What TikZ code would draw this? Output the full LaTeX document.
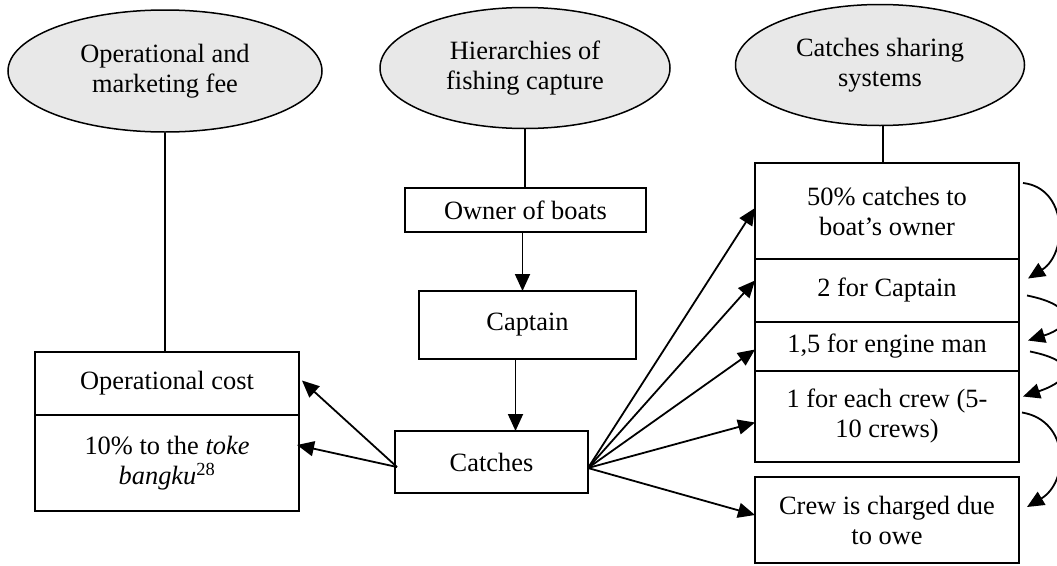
\documentclass[tikz,border=0pt]{standalone}
\usepackage{fontspec}
\setmainfont{Liberation Serif}
\usetikzlibrary{shapes.geometric,arrows.meta,calc}
\definecolor{bubblefill}{HTML}{E8E8E8}
\begin{document}
\begin{tikzpicture}[x=1pt,y=-1pt,
  font=\fontsize{26.4}{30}\selectfont,
  line width=1.6pt,
  bubble/.style={ellipse,draw,fill=bubblefill,inner sep=0pt,align=center,line width=1.5pt},
  cell/.style={rectangle,draw,inner sep=0pt,outer sep=0pt,align=center,line width=2pt},
  arr/.style={-{Triangle[length=17pt,width=15pt]},line width=1.8pt}]
\useasboundingbox (0,0) rectangle (1057,565);
\clip (0,0) rectangle (1057,565);

% headings
\node[bubble,minimum width=314pt,minimum height=122pt] (fee) at (165,71) {Operational and\\marketing fee};
\node[bubble,minimum width=290pt,minimum height=121pt] (hier) at (525,68) {Hierarchies of\\fishing capture};
\node[bubble,minimum width=289pt,minimum height=121pt] (share) at (880,65) {Catches sharing\\systems};

% hierarchy column
\node[cell,minimum width=241pt,minimum height=44pt] (owner) at (525.5,210) {Owner of boats};
\node[cell,minimum width=217pt,minimum height=68pt] (captain) at (527.5,325) {Captain};
\node[cell,minimum width=193pt,minimum height=62pt] (catches) at (491.5,462) {Catches};

% cost column
\node[cell,minimum width=264pt,minimum height=63pt] (opcost) at (167,383.5) {Operational cost};
\node[cell,minimum width=264pt,minimum height=96pt,anchor=north] (toke) at (opcost.south) {10\% to the \textit{toke}\\\textit{bangku}\textsuperscript{28}};

% sharing column, stacked cells
\node[cell,minimum width=264pt,minimum height=96pt,anchor=north] (s1) at (887,163) {50\% catches to\\boat’s owner};
\node[cell,minimum width=264pt,minimum height=63pt,anchor=north] (s2) at (s1.south) {2 for Captain};
\node[cell,minimum width=264pt,minimum height=49pt,anchor=north] (s3) at (s2.south) {1,5 for engine man};
\node[cell,minimum width=264pt,minimum height=91pt,anchor=north] (s4) at (s3.south) {1 for each crew (5-\\10 crews)};
\node[cell,minimum width=264pt,minimum height=86pt] (crew) at (887,520) {Crew is charged due\\to owe};

% plain links from the headings
\draw (fee.south) -- (fee.south |- opcost.north);
\draw (hier.south) -- (hier.south |- owner.north);
\draw ([xshift=3pt]share.south) -- ([xshift=3pt]share.south |- s1.north);

% hierarchy arrows
\draw[arr] ([xshift=-3pt]owner.south) -- ([xshift=-3pt]owner.south |- captain.north);
\draw[arr] ([xshift=-12pt]captain.south) -- ([xshift=-12pt]captain.south |- catches.north);

% catches to costs
\coordinate (cl) at ($(catches.west)+(2,5)$);
\draw[arr] (cl) -- ($(opcost.east)+(3,-3)$);
\draw[arr] (cl) -- ($(toke.east)+(-2,-18)$);

% catches to shares
\coordinate (cr) at ($(catches.east)+(0,6)$);
\draw[arr] (cr) -- ($(s1.west)+(0,-3)$);
\draw[arr] (cr) -- ($(s2.west)+(0,-10)$);
\draw[arr] (cr) -- ($(s3.west)+(0,3)$);
\draw[arr] (cr) -- ($(s4.west)+(0,6)$);
\draw[arr] (cr) -- ($(crew.west)+(0,-5)$);

% cascading remainder
\draw[arr] ($(s1.east)+(4,-28)$) .. controls +(45,5) and +(40,-25) .. ($(s2.east)+(9,-12)$);
\draw[arr] ($(s2.east)+(8,5)$) .. controls +(50,10) and +(45,-14) .. ($(s3.east)+(9,-6)$);
\draw[arr] ($(s3.east)+(11,5)$) .. controls +(50,10) and +(48,-16) .. ($(s4.east)+(4,-20)$);
\draw[arr] ($(s4.east)+(3,-4)$) .. controls +(48,8) and +(42,-25) .. ($(crew.east)+(8,-13)$);
\end{tikzpicture}
\end{document}
